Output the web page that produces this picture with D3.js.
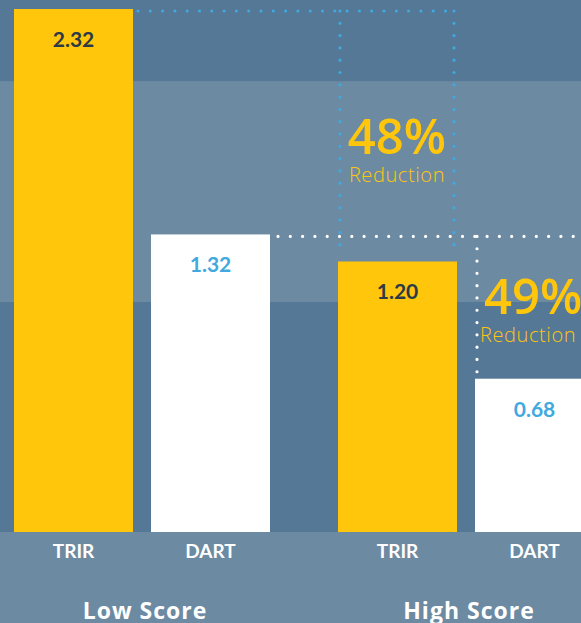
<!DOCTYPE html>
<html>
<head>
  <meta charset="utf-8">
  <script src="https://d3js.org/d3.v7.min.js"></script>
  <style>
    body { margin: 0; background: #6d8aa3; }
    text { font-family: "Lato", "Open Sans", sans-serif; }
  </style>
</head>
<body>
<script>

  // data
  var groups = ["Low Score", "High Score"];
  var measures = ["TRIR", "DART"];
  var values = [
    { group: "Low Score", measure: "TRIR", value: 2.32 },
    { group: "Low Score", measure: "DART", value: 1.32 },
    { group: "High Score", measure: "TRIR", value: 1.20 },
    { group: "High Score", measure: "DART", value: 0.68 }
  ];
  var reductions = [
    { group: "Low Score", label: "48%" },
    { group: "High Score", label: "49%" }
  ];
  // background band boundaries (in value units)
  var bands = [0, 1.02, 2.0, 2.6];

  var width = 581, height = 623;

  var svg = d3.select("body").append("svg")
      .attr("width", width)
      .attr("height", height);

  var y = d3.scaleLinear()
      .domain([0, 2.32])
      .range([532, 9]);

  var x0 = d3.scaleBand()
      .domain(groups)
      .range([14, 594])
      .paddingInner(68 / 324)
      .paddingOuter(0);

  var x1 = d3.scaleBand()
      .domain(measures)
      .range([0, x0.bandwidth()])
      .paddingInner(18 / 137)
      .paddingOuter(0);

  var barColor = { TRIR: "#ffc60b", DART: "#ffffff" };
  var labelColor = { TRIR: "#2c3a47", DART: "#3fa9e0" };

  // background bands
  svg.append("rect")
      .attr("x", 0).attr("y", 0)
      .attr("width", width).attr("height", height)
      .style("fill", "#6d8aa3");

  svg.selectAll(".band")
    .data([[bands[0], bands[1]], [bands[2], bands[3]]])
    .enter().append("rect")
      .attr("class", "band")
      .attr("x", 0)
      .attr("width", width)
      .attr("y", function(d) { return y(d[1]); })
      .attr("height", function(d) { return y(d[0]) - y(d[1]); })
      .style("fill", "#547895");

  function find(g, m) {
    return values.filter(function(d) { return d.group == g && d.measure == m; })[0];
  }
  function barX(d) { return x0(d.group) + x1(d.measure); }

  // bars
  svg.selectAll(".bar")
    .data(values)
    .enter().append("rect")
      .attr("class", "bar")
      .attr("x", barX)
      .attr("y", function(d) { return y(d.value); })
      .attr("width", x1.bandwidth())
      .attr("height", function(d) { return y(0) - y(d.value); })
      .style("fill", function(d) { return barColor[d.measure]; });

  svg.selectAll(".val")
    .data(values)
    .enter().append("text")
      .attr("class", "val")
      .attr("x", function(d) { return barX(d) + x1.bandwidth() / 2; })
      .attr("y", function(d) { return y(d.value) + 38; })
      .attr("text-anchor", "middle")
      .style("font-size", "21px")
      .style("font-weight", "bold")
      .style("fill", function(d) { return labelColor[d.measure]; })
      .text(function(d) { return d.value.toFixed(2); });

  // dotted reduction guides
  var lowT = find("Low Score", "TRIR"), lowD = find("Low Score", "DART");
  var highT = find("High Score", "TRIR"), highD = find("High Score", "DART");

  function dotted(x1p, y1p, x2p, y2p, color) {
    svg.append("line")
      .attr("x1", x1p).attr("y1", y1p)
      .attr("x2", x2p).attr("y2", y2p)
      .style("stroke", color)
      .style("stroke-width", 3.2)
      .style("stroke-linecap", "round")
      .style("stroke-dasharray", "0 12.3");
  }

  var boxL = barX(highT) + 2, boxR = barX(highT) + x1.bandwidth() - 3;
  dotted(barX(lowT) + x1.bandwidth() + 5, y(lowT.value) + 2, boxR, y(lowT.value) + 2, "#3fa9e0");
  dotted(boxL, y(lowT.value) + 2, boxL, y(highT.value) - 6, "#3fa9e0");
  dotted(boxR, y(lowT.value) + 2, boxR, y(highT.value) - 12, "#3fa9e0");

  var wl = barX(highD) + 2;
  dotted(barX(lowD) + x1.bandwidth() + 8, y(lowD.value) + 2, width + 10, y(lowD.value) + 2, "#ffffff");
  dotted(wl, y(lowD.value) + 2, wl, y(highD.value) - 6, "#ffffff");

  // reduction labels
  var redPos = [
    { x: (boxL + boxR) / 2, y: y(highT.value) - 107, anchor: "middle", dx: 0 },
    { x: wl + 7, y: y(highT.value) + 53, anchor: "start", dx: -4 }
  ];
  reductions.forEach(function(r, i) {
    var p = redPos[i];
    svg.append("text")
      .attr("x", p.x).attr("y", p.y)
      .attr("text-anchor", p.anchor)
      .style("font-family", "'Open Sans', sans-serif")
      .style("font-size", "49px")
      .style("font-weight", "600")
      .style("fill", "#ffc60b")
      .text(r.label);
    svg.append("text")
      .attr("x", p.x + p.dx).attr("y", p.y + 28)
      .attr("text-anchor", p.anchor)
      .style("font-family", "'Open Sans', sans-serif")
      .style("font-size", "20px")
      .style("font-weight", "300")
      .style("letter-spacing", "0.6px")
      .style("fill", "#ffc60b")
      .text("Reduction");
  });

  // axis labels
  svg.selectAll(".cat")
    .data(values)
    .enter().append("text")
      .attr("class", "cat")
      .attr("x", function(d) { return barX(d) + x1.bandwidth() / 2; })
      .attr("y", 558)
      .attr("text-anchor", "middle")
      .style("font-size", "19px")
      .style("font-weight", "bold")
      .style("fill", "#ffffff")
      .text(function(d) { return d.measure; });

  svg.selectAll(".grp")
    .data(groups)
    .enter().append("text")
      .attr("class", "grp")
      .attr("x", function(d) { return x0(d) + x0.bandwidth() / 2 + 3; })
      .attr("y", 619)
      .attr("text-anchor", "middle")
      .style("font-family", "'Open Sans', sans-serif")
      .style("font-size", "23px")
      .style("font-weight", "bold")
      .style("letter-spacing", "1px")
      .style("fill", "#ffffff")
      .text(function(d) { return d; });

</script>
</body>
</html>
